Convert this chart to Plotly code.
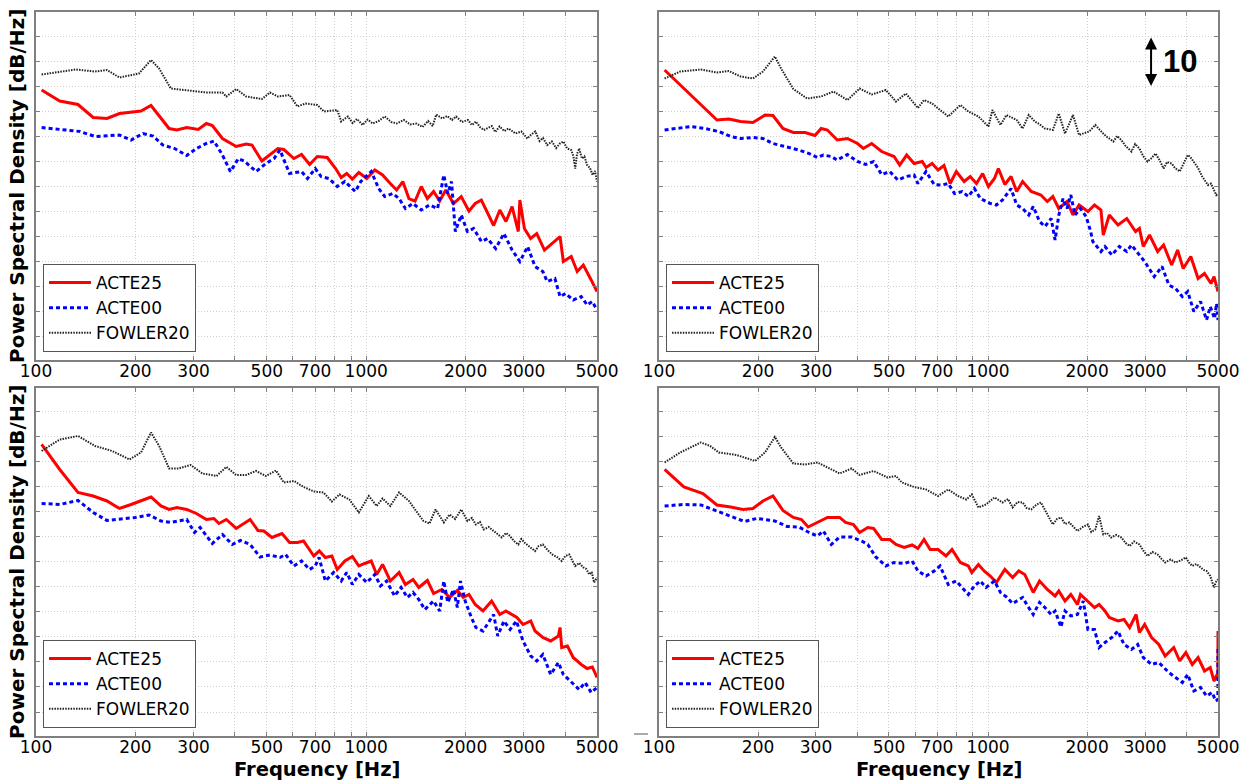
import math
import plotly.graph_objects as go

# ---------------------------------------------------------------
# Data: (frequency [Hz], PSD [dB/Hz])
# (absolute dB level is arbitrary; grid spacing = 5 dB)
# ---------------------------------------------------------------
SERIES = ["ACTE25", "ACTE00", "FOWLER20"]

# top-left panel
tl_acte25 = [(104, 54.2), (118, 52.0), (134, 51.3), (149, 48.7), (164, 48.5), (179, 49.5), (208, 50.0),
             (223, 51.1), (253, 46.5), (267, 46.2), (286, 46.7), (310, 46.3), (328, 47.5), (342, 47.1),
             (367, 44.5), (404, 42.9), (433, 43.4), (451, 43.2), (483, 40.0), (511, 41.3), (540, 42.5),
             (563, 42.3), (604, 40.5), (637, 41.3), (674, 39.3), (711, 40.9), (762, 40.7), (808, 38.5),
             (840, 36.7), (873, 37.5), (908, 36.4), (950, 37.7), (1004, 36.5), (1062, 38.2), (1121, 37.2),
             (1183, 35.5), (1236, 34.2), (1291, 35.9), (1347, 32.5), (1406, 32.0), (1468, 34.9),
             (1532, 32.5), (1600, 33.9), (1669, 32.0), (1742, 34.2), (1837, 31.5), (1940, 32.9),
             (2047, 30.0), (2139, 31.5), (2232, 32.2), (2330, 29.5), (2432, 27.1), (2539, 30.2),
             (2650, 27.9), (2766, 30.9), (2888, 25.9), (2920, 32.2), (3014, 26.5), (3147, 24.5),
             (3285, 25.5), (3466, 22.2), (3660, 23.5), (3864, 24.9), (3954, 19.9), (4178, 20.9),
             (4356, 17.9), (4545, 19.2), (4802, 16.2), (5000, 13.9)]
tl_acte00 = [(104, 46.7), (136, 45.9), (151, 44.9), (179, 45.2), (194, 44.2), (211, 45.5), (226, 45.0),
             (242, 43.2), (263, 42.5), (286, 41.1), (306, 42.5), (328, 43.5), (346, 44.0), (367, 41.2),
             (388, 37.9), (410, 40.5), (427, 40.0), (464, 37.9), (497, 39.5), (526, 40.5), (548, 42.2),
             (586, 37.5), (637, 37.9), (664, 36.5), (701, 38.5), (730, 36.9), (771, 36.5), (817, 34.9),
             (862, 35.9), (927, 33.9), (963, 35.9), (1036, 37.9), (1091, 34.5), (1138, 32.9),
             (1204, 33.5), (1258, 32.5), (1314, 30.5), (1386, 31.5), (1468, 30.2), (1555, 31.2),
             (1645, 30.5), (1718, 37.2), (1766, 33.5), (1813, 35.9), (1862, 25.9), (1940, 29.2),
             (2026, 25.9), (2115, 26.5), (2232, 23.9), (2330, 24.5), (2467, 22.5), (2612, 25.5),
             (2766, 22.2), (2920, 19.9), (3083, 22.9), (3246, 18.9), (3427, 17.9), (3532, 15.9),
             (3728, 16.5), (3864, 12.9), (4015, 13.5), (4235, 12.2), (4480, 12.9), (4667, 11.2),
             (4840, 11.9), (5000, 10.2)]
tl_fowler20 = [(104, 57.3), (118, 57.9), (132, 58.3), (151, 57.9), (164, 58.2), (179, 56.7), (205, 57.5),
               (223, 60.2), (236, 58.5), (256, 54.5), (286, 54.2), (328, 53.7), (367, 53.7), (377, 52.9),
               (404, 54.4), (433, 52.9), (483, 52.4), (511, 53.7), (540, 52.9), (586, 53.2), (619, 50.9),
               (655, 51.5), (711, 51.2), (745, 49.9), (817, 50.2), (840, 47.9), (880, 48.9), (910, 47.6),
               (938, 48.4), (975, 47.2), (1010, 48.3), (1047, 47.5), (1090, 48.0), (1138, 48.9),
               (1190, 47.8), (1236, 47.5), (1300, 48.2), (1360, 47.3), (1419, 47.5), (1480, 46.8),
               (1540, 48.0), (1590, 47.0), (1630, 49.3), (1700, 48.5), (1760, 49.0), (1820, 48.2),
               (1871, 48.9), (1950, 47.8), (2032, 48.2), (2090, 47.2), (2148, 47.9), (2210, 46.8),
               (2270, 46.2), (2400, 47.0), (2460, 45.8), (2535, 46.9), (2620, 46.0), (2700, 46.5),
               (2831, 45.5), (2950, 45.9), (3076, 44.5), (3150, 45.2), (3251, 45.9), (3350, 44.0),
               (3430, 44.6), (3532, 43.2), (3650, 43.9), (3760, 42.6), (3860, 43.5), (3954, 43.9),
               (4060, 42.5), (4178, 42.2), (4240, 41.0), (4295, 38.5), (4350, 41.4), (4416, 42.5),
               (4500, 40.5), (4580, 40.9), (4667, 39.2), (4760, 38.6), (4850, 37.2), (4930, 38.0),
               (5000, 35.9)]

# top-right panel
tr_acte25 = [(104, 58.2), (116, 55.2), (134, 51.2), (150, 48.2), (163, 48.4), (177, 47.9), (193, 47.7),
             (210, 49.2), (222, 49.1), (238, 46.5), (256, 45.7), (278, 45.7), (298, 45.1), (311, 46.5),
             (325, 46.2), (348, 44.2), (374, 44.5), (401, 43.5), (418, 42.5), (443, 43.5), (475, 41.9),
             (518, 40.9), (539, 39.2), (566, 41.2), (596, 39.5), (631, 39.9), (648, 38.7), (676, 39.5),
             (705, 38.2), (735, 39.1), (767, 35.5), (801, 37.9), (846, 35.9), (883, 36.9), (922, 35.5),
             (963, 37.5), (1003, 34.9), (1046, 36.5), (1075, 38.5), (1125, 35.3), (1175, 36.9),
             (1222, 33.9), (1274, 35.9), (1353, 33.9), (1448, 33.2), (1514, 31.9), (1574, 32.9),
             (1641, 30.5), (1739, 31.9), (1812, 29.2), (1891, 31.2), (2012, 29.9), (2107, 31.2),
             (2204, 30.2), (2240, 25.2), (2337, 29.2), (2483, 27.2), (2641, 28.5), (2808, 25.9),
             (2885, 26.5), (2964, 22.9), (3097, 25.2), (3278, 21.9), (3417, 23.2), (3615, 19.2),
             (3768, 22.2), (3920, 18.5), (4133, 20.9), (4350, 16.5), (4550, 17.5), (4760, 15.5),
             (4863, 16.9), (5000, 13.9)]
tr_acte00 = [(104, 46.2), (116, 46.7), (125, 46.9), (138, 46.5), (152, 45.9), (165, 44.9), (177, 44.5),
             (193, 44.7), (207, 44.5), (222, 43.5), (242, 42.9), (266, 42.2), (286, 41.5), (303, 40.7),
             (316, 41.2), (334, 40.9), (348, 40.2), (374, 41.3), (401, 39.9), (425, 39.3), (449, 39.9),
             (475, 37.3), (503, 37.9), (532, 36.2), (563, 36.9), (596, 37.2), (612, 35.5), (648, 37.9),
             (686, 35.3), (724, 35.2), (757, 35.5), (791, 33.5), (834, 33.9), (871, 32.9), (909, 34.5),
             (948, 32.5), (1017, 31.5), (1060, 31.2), (1107, 32.2), (1175, 34.5), (1222, 31.2),
             (1274, 30.5), (1330, 29.2), (1372, 30.9), (1434, 27.9), (1489, 26.9), (1556, 28.5),
             (1599, 24.2), (1641, 29.2), (1690, 32.5), (1739, 30.5), (1785, 33.2), (1837, 29.2),
             (1909, 30.5), (1987, 28.9), (2051, 25.9), (2082, 23.9), (2204, 21.9), (2267, 22.9),
             (2379, 21.2), (2507, 22.9), (2641, 21.9), (2729, 23.2), (2885, 21.2), (2992, 19.9),
             (3200, 16.9), (3379, 18.9), (3545, 15.2), (3716, 14.5), (3895, 12.9), (4046, 13.9),
             (4222, 9.9), (4424, 11.9), (4616, 8.2), (4736, 10.9), (4880, 8.5), (4950, 11.5),
             (5000, 8.2)]
tr_fowler20 = [(104, 56.5), (116, 57.9), (134, 58.3), (150, 57.7), (163, 58.0), (177, 56.9), (193, 56.5),
               (207, 57.9), (225, 60.9), (235, 58.5), (256, 54.4), (282, 52.5), (311, 52.9), (339, 53.9),
               (374, 52.2), (407, 54.5), (443, 53.3), (489, 54.2), (525, 51.9), (563, 53.5), (612, 50.6),
               (639, 52.2), (676, 51.5), (705, 50.5), (757, 48.9), (824, 51.2), (871, 49.9), (935, 48.9),
               (1003, 46.9), (1031, 50.2), (1091, 47.2), (1138, 49.2), (1222, 48.2), (1274, 46.5),
               (1330, 49.2), (1387, 47.9), (1430, 47.4), (1489, 46.5), (1574, 46.2), (1641, 49.5),
               (1714, 45.5), (1812, 49.2), (1891, 45.2), (2029, 45.9), (2118, 47.2), (2240, 45.5),
               (2300, 44.8), (2403, 43.9), (2470, 45.0), (2542, 44.2), (2620, 43.0), (2729, 41.9),
               (2800, 43.4), (2885, 42.5), (2960, 41.0), (3053, 39.9), (3130, 40.5), (3230, 41.5),
               (3320, 40.2), (3417, 38.5), (3500, 39.8), (3615, 39.5), (3700, 38.6), (3825, 37.9),
               (3930, 39.5), (4046, 41.2), (4120, 40.8), (4222, 39.9), (4350, 38.6), (4467, 37.0),
               (4560, 36.2), (4659, 35.2), (4760, 35.5), (4863, 34.2), (4940, 33.2), (5000, 33.5)]

# bottom-left panel
bl_acte25 = [(104, 58.5), (118, 53.5), (134, 48.9), (149, 48.2), (164, 47.2), (179, 45.7), (194, 46.5),
             (208, 47.2), (223, 48.0), (239, 46.2), (253, 45.5), (267, 45.9), (286, 45.5), (306, 44.7),
             (328, 43.5), (346, 43.7), (358, 42.7), (377, 43.5), (404, 41.7), (445, 43.5), (470, 41.3),
             (490, 41.2), (518, 39.9), (556, 40.7), (586, 38.9), (619, 38.9), (646, 39.2), (694, 36.2),
             (721, 37.2), (752, 35.9), (787, 36.2), (817, 33.5), (862, 35.2), (908, 36.1), (950, 34.2),
             (990, 34.7), (1036, 35.2), (1076, 32.5), (1121, 34.5), (1183, 31.2), (1258, 32.9),
             (1314, 30.5), (1386, 31.5), (1443, 29.9), (1532, 31.3), (1600, 28.7), (1694, 29.5),
             (1790, 27.9), (1888, 29.3), (1967, 27.9), (2047, 28.5), (2139, 26.5), (2258, 25.2),
             (2398, 27.2), (2539, 24.5), (2650, 25.2), (2860, 23.9), (2985, 22.5), (3150, 23.2),
             (3246, 21.2), (3427, 19.9), (3620, 19.2), (3820, 20.2), (3864, 21.9), (3909, 17.9),
             (4068, 18.2), (4235, 15.9), (4480, 14.5), (4667, 13.7), (4840, 14.0), (5000, 11.9)]
bl_acte00 = [(104, 46.7), (118, 46.5), (134, 47.3), (149, 44.9), (164, 43.3), (179, 43.5), (200, 43.9),
             (220, 44.4), (239, 43.2), (256, 42.9), (286, 43.5), (302, 40.9), (314, 41.9), (342, 38.7),
             (367, 40.5), (393, 38.5), (416, 39.3), (445, 38.5), (477, 36.0), (511, 36.4), (548, 35.9),
             (570, 36.5), (604, 34.2), (637, 35.2), (674, 33.5), (701, 34.2), (720, 35.9), (752, 31.2),
             (797, 32.9), (840, 31.2), (873, 32.9), (908, 30.5), (950, 32.5), (1004, 30.9), (1062, 32.5),
             (1105, 30.2), (1153, 31.2), (1219, 28.2), (1275, 29.9), (1333, 27.9), (1386, 28.9),
             (1443, 27.5), (1505, 25.5), (1600, 27.2), (1669, 25.2), (1718, 31.2), (1766, 26.9),
             (1837, 29.5), (1888, 25.9), (1930, 31.2), (1994, 27.2), (2082, 23.9), (2148, 21.9),
             (2258, 21.2), (2432, 24.5), (2502, 20.2), (2612, 23.2), (2728, 21.5), (2850, 23.2),
             (2985, 19.2), (3150, 16.2), (3285, 15.2), (3427, 16.5), (3620, 12.5), (3820, 14.9),
             (3954, 12.5), (4178, 10.9), (4416, 9.5), (4603, 10.9), (4802, 8.9), (5000, 9.9)]
bl_fowler20 = [(104, 57.2), (118, 59.5), (134, 60.2), (151, 58.2), (170, 57.2), (192, 55.5), (208, 56.9),
               (223, 60.9), (236, 58.2), (253, 53.7), (270, 53.7), (294, 54.4), (319, 52.7), (352, 52.2),
               (377, 54.0), (404, 52.4), (433, 52.4), (464, 53.2), (497, 52.2), (533, 53.3), (563, 50.9),
               (604, 51.2), (646, 50.0), (694, 49.1), (742, 48.9), (787, 47.1), (830, 48.5), (889, 47.5),
               (950, 44.9), (1018, 48.2), (1076, 46.2), (1121, 47.7), (1183, 46.2), (1258, 48.9),
               (1347, 47.2), (1419, 45.2), (1490, 43.2), (1555, 42.7), (1622, 45.5), (1718, 42.9),
               (1790, 44.5), (1860, 43.6), (1940, 45.5), (2026, 43.2), (2090, 43.8), (2148, 42.5),
               (2210, 43.0), (2270, 41.5), (2350, 42.0), (2432, 41.2), (2500, 40.6), (2574, 39.9),
               (2650, 40.8), (2725, 40.2), (2800, 39.2), (2888, 38.5), (2950, 39.6), (3014, 38.9),
               (3130, 38.0), (3246, 37.2), (3330, 38.2), (3427, 38.5), (3540, 37.4), (3660, 36.5),
               (3780, 36.0), (3909, 35.2), (4010, 36.2), (4121, 36.5), (4200, 35.4), (4295, 34.2),
               (4420, 34.8), (4545, 33.9), (4640, 33.6), (4740, 32.5), (4820, 33.0), (4900, 30.9),
               (5000, 31.9)]

# bottom-right panel
br_acte25 = [(104, 53.5), (119, 50.0), (136, 48.7), (150, 46.4), (165, 46.0), (180, 45.5), (193, 45.7),
             (207, 47.2), (222, 48.2), (238, 45.3), (256, 43.9), (271, 43.5), (284, 42.0), (303, 42.9),
             (325, 43.9), (354, 43.9), (369, 42.9), (390, 42.5), (407, 40.9), (431, 41.9), (449, 41.7),
             (475, 39.5), (503, 39.5), (525, 38.5), (556, 37.9), (588, 38.4), (612, 37.7), (639, 39.5),
             (667, 37.5), (705, 37.5), (745, 36.2), (777, 37.5), (824, 34.9), (871, 34.2), (893, 32.9),
             (935, 34.5), (973, 33.2), (1016, 32.2), (1060, 30.9), (1125, 33.5), (1188, 31.9),
             (1240, 33.2), (1293, 32.5), (1372, 28.9), (1434, 31.2), (1514, 29.5), (1599, 28.2),
             (1641, 29.2), (1714, 27.2), (1785, 28.5), (1870, 26.5), (1909, 28.5), (2012, 27.2),
             (2107, 25.9), (2176, 26.5), (2267, 25.2), (2337, 23.9), (2483, 23.2), (2590, 23.5),
             (2694, 21.9), (2819, 24.5), (2885, 20.9), (2992, 22.5), (3142, 19.9), (3304, 18.5),
             (3454, 16.2), (3669, 17.9), (3825, 15.2), (3993, 16.9), (4176, 14.5), (4350, 15.9),
             (4550, 13.2), (4736, 13.9), (4863, 11.2), (4970, 12.5), (4995, 11.5), (5000, 21.2)]
br_acte00 = [(104, 46.2), (119, 46.5), (134, 46.4), (150, 45.2), (165, 44.2), (182, 43.1), (198, 43.7),
             (225, 43.2), (245, 42.1), (266, 42.0), (286, 40.9), (303, 40.2), (316, 41.2), (334, 38.5),
             (354, 40.0), (385, 40.0), (413, 39.2), (431, 38.5), (456, 36.0), (489, 34.2), (518, 34.9),
             (556, 34.7), (588, 35.2), (612, 33.2), (648, 32.2), (686, 33.2), (715, 34.2), (757, 30.5),
             (801, 31.2), (834, 29.9), (871, 28.5), (909, 30.2), (948, 31.2), (986, 29.9), (1046, 31.2),
             (1091, 28.9), (1138, 28.0), (1188, 26.7), (1222, 27.2), (1274, 27.9), (1311, 26.5),
             (1372, 24.5), (1434, 26.9), (1489, 25.9), (1556, 24.5), (1599, 25.2), (1666, 22.0),
             (1714, 25.2), (1785, 24.2), (1870, 24.5), (1948, 27.2), (2012, 21.5), (2107, 21.5),
             (2176, 17.9), (2267, 18.9), (2379, 19.9), (2483, 21.2), (2590, 18.5), (2729, 17.5),
             (2850, 18.5), (2964, 15.9), (3142, 14.5), (3304, 14.9), (3545, 12.9), (3716, 11.9),
             (3895, 10.9), (4046, 12.5), (4222, 9.2), (4424, 9.9), (4616, 8.2), (4800, 8.9),
             (4920, 7.2), (4995, 7.5), (5000, 17.9)]
br_fowler20 = [(104, 54.9), (116, 56.9), (134, 58.9), (143, 58.2), (152, 56.9), (172, 56.4), (196, 55.2),
               (210, 56.9), (225, 60.0), (235, 57.9), (256, 54.7), (278, 54.5), (303, 54.9), (329, 53.7),
               (354, 52.7), (385, 53.7), (407, 52.4), (449, 53.2), (495, 51.9), (525, 52.2), (547, 50.9),
               (596, 50.0), (648, 49.5), (705, 48.2), (757, 49.5), (810, 48.2), (859, 47.5), (893, 48.5),
               (935, 45.9), (986, 46.5), (1046, 47.9), (1107, 46.9), (1150, 47.6), (1188, 45.9),
               (1230, 47.0), (1274, 46.9), (1310, 45.8), (1353, 45.5), (1400, 46.4), (1448, 46.9),
               (1514, 44.5), (1574, 42.5), (1620, 43.6), (1666, 43.9), (1715, 42.6), (1767, 42.9),
               (1820, 42.0), (1870, 41.2), (1940, 42.0), (2012, 42.5), (2060, 41.0), (2118, 41.5),
               (2176, 44.2), (2240, 40.5), (2300, 40.8), (2366, 39.9), (2450, 40.4), (2542, 39.9),
               (2620, 38.8), (2694, 38.2), (2780, 39.1), (2885, 38.5), (2970, 37.2), (3053, 36.2),
               (3160, 37.0), (3278, 36.5), (3370, 35.6), (3454, 34.9), (3590, 35.5), (3716, 34.9),
               (3850, 35.3), (3993, 35.9), (4090, 34.8), (4176, 34.2), (4300, 34.6), (4424, 33.9),
               (4520, 33.4), (4616, 33.2), (4736, 32.2), (4863, 29.9), (4930, 31.0), (5000, 31.5)]

panels = [
    [tl_acte25, tl_acte00, tl_fowler20],
    [tr_acte25, tr_acte00, tr_fowler20],
    [bl_acte25, bl_acte00, bl_fowler20],
    [br_acte25, br_acte00, br_fowler20],
]

freq_ticks = [100, 200, 300, 400, 500, 600, 700, 800, 900, 1000, 2000, 3000, 4000, 5000]
freq_labels = ["100", "200", "300", "", "500", "", "700", "", "", "1000", "2000", "3000", "", "5000"]
psd_ticks = [5, 10, 15, 20, 25, 30, 35, 40, 45, 50, 55, 60, 65]

# scale bar in the top-right panel (10 dB)
scale_freq, scale_lo, scale_hi = 3130, 55, 65
scale_label_freq = 3830

styles = {
    "ACTE25": dict(color="#ff0000", width=3, dash="solid"),
    "ACTE00": dict(color="#0000ff", width=3, dash="4px,3px"),
    "FOWLER20": dict(color="#222222", width=2, dash="1.5px,1.2px"),
}

FONT = "DejaVu Sans"
W, H = 1253, 783
ML, MR, MT, MB = 36, 35, 10, 47
pw, ph = W - ML - MR, H - MT - MB

# panel domains from pixel boxes
x_left = [(36 - ML) / pw, (597 - ML) / pw]
x_right = [(659 - ML) / pw, 1.0]
y_top = [(H - MB - 359) / ph, 1.0]
y_bot = [0.0, (H - MB - 387) / ph]
domains = [(x_left, y_top), (x_right, y_top), (x_left, y_bot), (x_right, y_bot)]

fig = go.Figure()

for i, series_list in enumerate(panels):
    n = i + 1
    xa = "x" if n == 1 else f"x{n}"
    ya = "y" if n == 1 else f"y{n}"
    lg = "legend" if n == 1 else f"legend{n}"
    for name, pts in zip(SERIES, series_list):
        fig.add_trace(
            go.Scatter(
                x=[p[0] for p in pts],
                y=[p[1] for p in pts],
                mode="lines",
                name=name,
                line=styles[name],
                xaxis=xa,
                yaxis=ya,
                legend=lg,
                showlegend=True,
            )
        )

layout = dict(
    width=W,
    height=H,
    margin=dict(l=ML, r=MR, t=MT, b=MB),
    paper_bgcolor="white",
    plot_bgcolor="white",
    font=dict(family=FONT, size=17, color="black"),
)

axis_common = dict(
    showline=True,
    linecolor="#808080",
    linewidth=1.5,
    mirror="ticks",
    ticks="inside",
    ticklen=4,
    tickcolor="#808080",
    showgrid=True,
    gridcolor="#cfcfcf",
    griddash="1px,2px",
    gridwidth=1,
    zeroline=False,
)

for i, (dx, dy) in enumerate(domains):
    n = i + 1
    sfx = "" if n == 1 else str(n)
    layout[f"xaxis{sfx}"] = dict(
        axis_common,
        type="log",
        domain=dx,
        anchor=f"y{sfx}",
        range=[2, math.log10(5000)],
        tickmode="array",
        tickvals=freq_ticks,
        ticktext=freq_labels,
        ticklabelstandoff=-5,
        tickfont=dict(family=FONT, size=17, color="black"),
    )
    layout[f"yaxis{sfx}"] = dict(
        axis_common,
        domain=dy,
        anchor=f"x{sfx}",
        range=[0.2, 69.8],
        tickmode="array",
        tickvals=psd_ticks,
        showticklabels=False,
    )
    # legends (lower left inside each panel)
    layout[f"legend{sfx}"] = dict(
        x=dx[0] + 7 / pw,
        y=dy[0] + 8 / ph,
        xanchor="left",
        yanchor="bottom",
        bgcolor="white",
        bordercolor="#555555",
        borderwidth=1,
        font=dict(family=FONT, size=17, color="black"),
        itemwidth=42,
        tracegroupgap=0,
    )

fig.update_layout(**layout)

annotations = []
# y labels
for dy in (y_top, y_bot):
    annotations.append(dict(
        text="<b>Power Spectral Density [dB/Hz]</b>",
        xref="paper", yref="paper",
        x=-19 / pw, y=(dy[0] + dy[1]) / 2,
        textangle=-90, showarrow=False,
        xanchor="center", yanchor="middle",
        font=dict(family=FONT, size=20, color="black"),
    ))
# x labels
for dx in (x_left, x_right):
    annotations.append(dict(
        text="<b>Frequency [Hz]</b>",
        xref="paper", yref="paper",
        x=(dx[0] + dx[1]) / 2, y=-34 / ph,
        showarrow=False, xanchor="center", yanchor="middle",
        font=dict(family=FONT, size=19.5, color="black"),
    ))
# 10 dB scale bar
annotations.append(dict(
    xref="x2", yref="y2", axref="x2", ayref="y2",
    x=math.log10(scale_freq), y=scale_lo,
    ax=math.log10(scale_freq), ay=scale_hi,
    showarrow=True, arrowhead=2, startarrowhead=2, arrowside="end+start",
    arrowsize=1.2, arrowwidth=2, arrowcolor="black", text="",
))
annotations.append(dict(
    xref="x2", yref="y2",
    x=math.log10(scale_label_freq), y=(scale_lo + scale_hi) / 2,
    text="<b>10</b>", showarrow=False, xanchor="center", yanchor="middle",
    font=dict(family="Liberation Sans", size=31, color="black"),
))
fig.update_layout(annotations=annotations)

# small stray dash left of the bottom-right panel (present in the reference)
fig.add_shape(type="line", xref="paper", yref="paper",
              x0=(634 - ML) / pw, x1=(648 - ML) / pw, y0=2 / ph, y1=2 / ph,
              line=dict(color="#555555", width=1))

# remove the default page margin so the figure sits at the window origin
fig.write_html(
    "out.html",
    config={"displayModeBar": False},
    post_script="document.body.style.margin='0';",
)
